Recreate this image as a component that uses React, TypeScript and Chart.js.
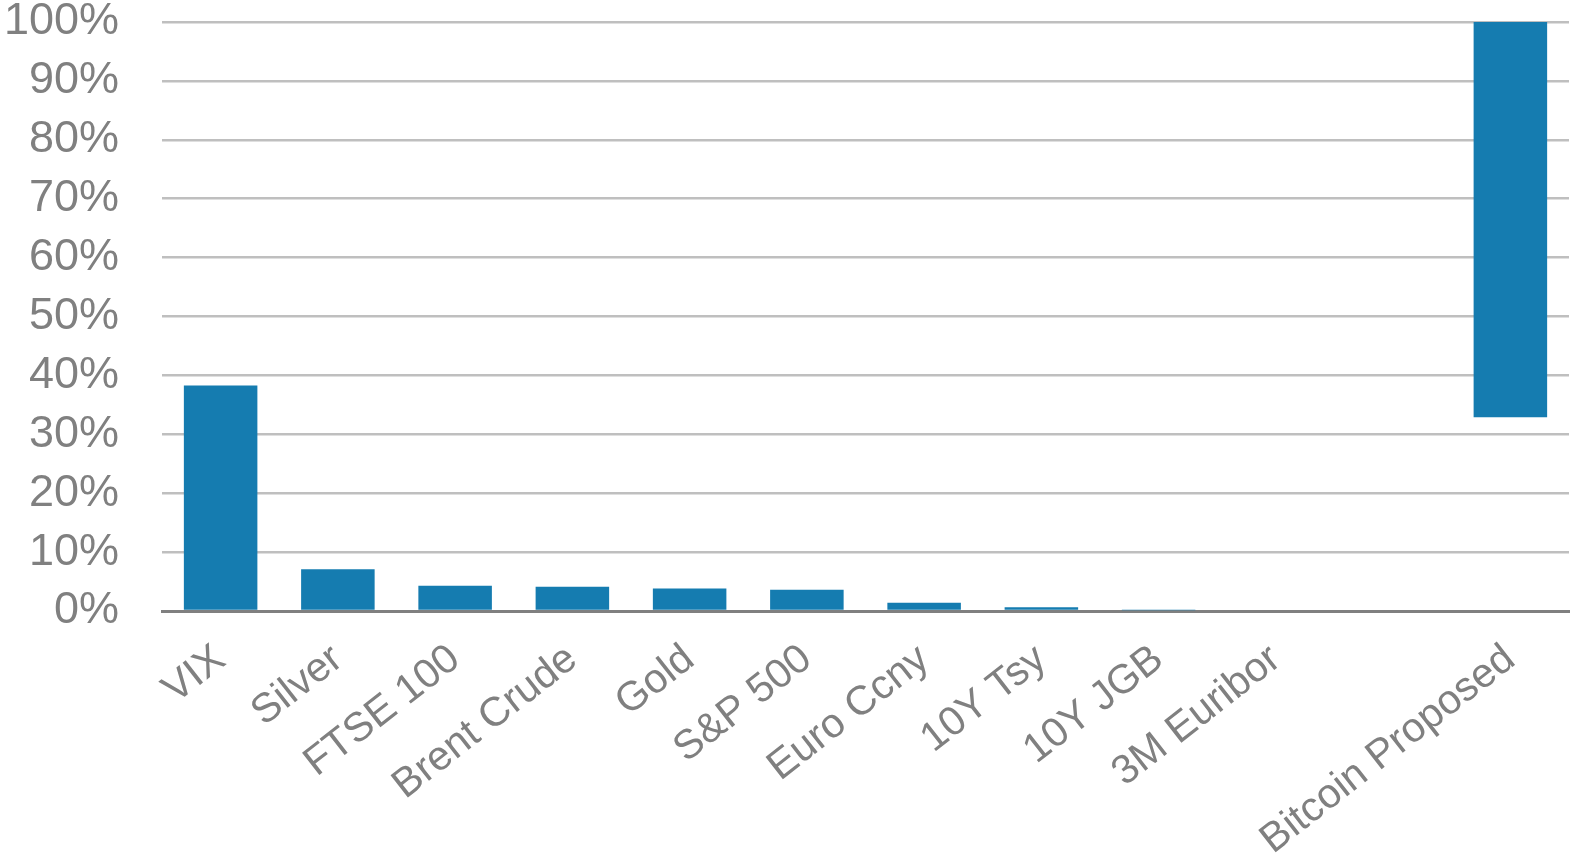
import React, { useEffect, useRef } from "react";
import { Chart, registerables } from "chart.js";

Chart.register(...registerables);

const categories: string[] = [
  "VIX",
  "Silver",
  "FTSE 100",
  "Brent Crude",
  "Gold",
  "S&P 500",
  "Euro Ccny",
  "10Y Tsy",
  "10Y JGB",
  "3M Euribor",
  "",
  "Bitcoin Proposed",
];

// Simple bars (percent) for each asset; null for the empty slot
const volatility: (number | null)[] = [38.3, 7.1, 4.3, 4.1, 3.8, 3.6, 1.4, 0.65, 0.12, 0, null, null];
// Floating bar range for the proposed Bitcoin band
const bitcoinRange: [number, number] = [32.9, 100];

const yTicks: number[] = [0, 10, 20, 30, 40, 50, 60, 70, 80, 90, 100];

const BAR_COLOR = "#157CB0";
const TEXT_COLOR = "#808080";
const GRID_COLOR = "#BFBFBF";
const FONT = "'Liberation Sans', Arial, sans-serif";

export default function App() {
  const canvasRef = useRef<HTMLCanvasElement | null>(null);

  useEffect(() => {
    document.body.style.margin = "0";
    const canvas = canvasRef.current;
    if (!canvas) return;

    const data: any[] = volatility.map((v) => v);
    data[categories.length - 1] = bitcoinRange;

    const chart = new Chart(canvas, {
      type: "bar",
      data: {
        labels: categories,
        datasets: [
          {
            data,
            backgroundColor: BAR_COLOR,
            borderWidth: 0,
            barPercentage: 0.627,
            categoryPercentage: 1,
          },
        ],
      },
      options: {
        animation: false,
        responsive: false,
        maintainAspectRatio: false,
        layout: { padding: { top: 22, right: 2, left: 0, bottom: 0 } },
        plugins: {
          legend: { display: false },
          tooltip: { enabled: false },
        },
        scales: {
          x: {
            offset: true,
            grid: { display: false, drawTicks: false },
            border: { display: true, color: TEXT_COLOR, width: 3 },
            ticks: {
              autoSkip: false,
              minRotation: 38,
              maxRotation: 38,
              padding: 24,
              color: TEXT_COLOR,
              font: { family: FONT, size: 41 },
            },
            afterFit: (scale: any) => {
              scale.height = 242;
              scale.paddingLeft = 0;
              scale.paddingRight = 0;
            },
          },
          y: {
            min: 0,
            max: 100,
            afterBuildTicks: (scale: any) => {
              scale.ticks = yTicks.map((v) => ({ value: v }));
            },
            grid: {
              color: GRID_COLOR,
              lineWidth: 2.5,
              drawTicks: false,
            },
            border: { display: false },
            ticks: {
              padding: 43,
              color: TEXT_COLOR,
              font: { family: FONT, size: 45 },
              callback: (v: any) => `${v}%`,
            },
            afterFit: (scale: any) => {
              scale.width = 162;
              scale.paddingTop = 0;
              scale.paddingBottom = 0;
            },
          },
        },
      },
    });

    return () => {
      chart.destroy();
    };
  }, []);

  return (
    <div style={{ width: 1571, height: 853, position: "relative" }}>
      <canvas ref={canvasRef} width={1571} height={853} style={{ width: 1571, height: 853, display: "block" }} />
    </div>
  );
}
